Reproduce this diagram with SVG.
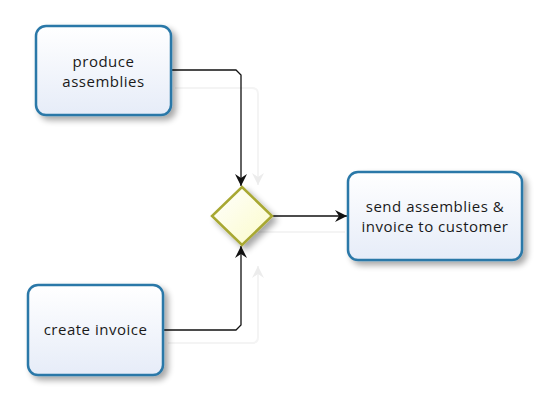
<svg xmlns="http://www.w3.org/2000/svg" width="552" height="404" viewBox="0 0 552 404">
<style>
.task{fill:url(#tg);stroke:#2b78a8;stroke-width:2.5}
.lbl{font-family:"Open Sans","DejaVu Sans",sans-serif;font-size:15px;letter-spacing:0.5px;fill:#1a1a1a;text-anchor:middle}
.flow{fill:none;stroke:#111;stroke-width:1.3}
.ghost{fill:none;stroke:#f4f4f4;stroke-width:2}
</style>
<defs>
<linearGradient id="tg" x1="0" y1="0" x2="0" y2="1">
<stop offset="0" stop-color="#ffffff"/>
<stop offset="1" stop-color="#e6ecf8"/>
</linearGradient>
<linearGradient id="gg" x1="0" y1="0" x2="1" y2="1">
<stop offset="0" stop-color="#ffffff"/>
<stop offset="1" stop-color="#fbfbc8"/>
</linearGradient>
<filter id="sh" x="-20%" y="-20%" width="150%" height="150%">
<feGaussianBlur in="SourceAlpha" stdDeviation="3"/>
<feOffset dx="4" dy="4" result="b"/>
<feComponentTransfer><feFuncA type="linear" slope="0.35"/></feComponentTransfer>
<feMerge><feMergeNode/><feMergeNode in="SourceGraphic"/></feMerge>
</filter>
<marker id="ah" viewBox="0 0 12 12" refX="12" refY="6" markerWidth="12" markerHeight="12" markerUnits="userSpaceOnUse" orient="auto">
<path d="M0,0 L12,6 L0,12 L4,6 Z" fill="#111"/>
</marker>
<marker id="ahg" viewBox="0 0 12 12" refX="12" refY="6" markerWidth="12" markerHeight="12" markerUnits="userSpaceOnUse" orient="auto">
<path d="M0,0 L12,6 L0,12 L4,6 Z" fill="#ececec"/>
</marker>
</defs>
<g id="ghosts">
<path class="ghost" d="M175,88 H252 Q258,88 258,94 V185" marker-end="url(#ahg)"/>
<path class="ghost" d="M258,232 H345"/>
<path class="ghost" d="M168,343 H252 Q258,343 258,337 V266" marker-end="url(#ahg)"/>
</g>
<g id="connectors">
<path class="flow" d="M171,70 H236 L241,75 V186" marker-end="url(#ah)"/>
<path class="flow" d="M163,330 H236 L241,325 V246" marker-end="url(#ah)"/>
<path class="flow" d="M272,216 H347" marker-end="url(#ah)"/>
</g>
<g id="produce-assemblies">
<rect class="task" x="36" y="26" width="135" height="89" rx="10" filter="url(#sh)"/>
<text class="lbl" x="103.5" y="67">produce</text>
<text class="lbl" x="103.5" y="87">assemblies</text>
</g>
<g id="create-invoice">
<rect class="task" x="28" y="285" width="135" height="90" rx="10" filter="url(#sh)"/>
<text class="lbl" x="95.5" y="335">create invoice</text>
</g>
<g id="gateway">
<path d="M242,187 L272,216 L242,245 L212,216 Z" fill="url(#gg)" stroke="#a8a832" stroke-width="2.5" filter="url(#sh)"/>
</g>
<g id="send-assemblies">
<rect class="task" x="348" y="172" width="174" height="88" rx="10" filter="url(#sh)"/>
<text class="lbl" x="435" y="212">send assemblies &amp;</text>
<text class="lbl" x="435" y="232">invoice to customer</text>
</g>
</svg>
